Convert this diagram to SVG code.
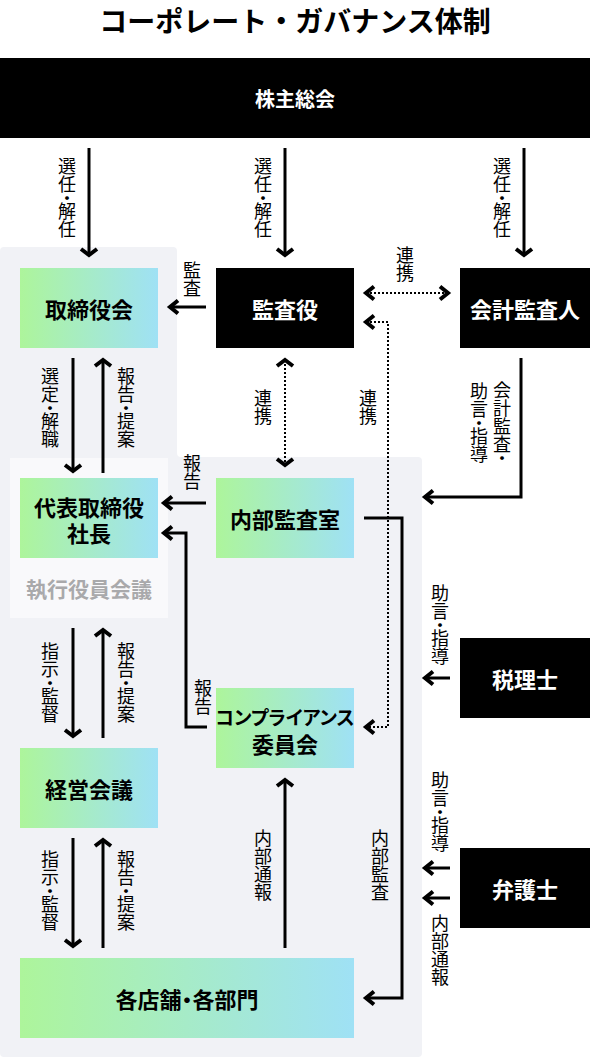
<svg xmlns="http://www.w3.org/2000/svg" width="590" height="1058" viewBox="0 0 590 1058">
<style>
text{font-family:"Noto Sans CJK JP","Noto Sans",sans-serif;dominant-baseline:central}
.title{font-size:28px;font-weight:700;fill:#000;text-anchor:middle}
.nl{font-size:22px;font-weight:700;fill:#000;text-anchor:middle}
.nw{font-size:22px;font-weight:700;fill:#fff;text-anchor:middle}
.vl{font-size:18px;font-weight:400;fill:#000;text-anchor:middle;writing-mode:vertical-rl;font-feature-settings:'vpal'}
.ln{fill:none;stroke:#000;stroke-width:3}
.dt{fill:none;stroke:#000;stroke-width:2;stroke-dasharray:2 2}
.av{marker-end:url(#mv)}
.ah{marker-end:url(#mh)}
.ahh{marker-start:url(#mh);marker-end:url(#mh)}
.avv{marker-start:url(#mv);marker-end:url(#mv)}
</style>
<defs>
<linearGradient id="g" x1="0" y1="0" x2="1" y2="0">
<stop offset="0" stop-color="#adf59b"/>
<stop offset="1" stop-color="#9fe1f5"/>
</linearGradient>
<marker id="mv" markerUnits="userSpaceOnUse" orient="auto-start-reverse" overflow="visible" refX="0" refY="0" markerWidth="1" markerHeight="1">
<path d="M-6,-8 L0,0 L-6,8" fill="none" stroke="#000" stroke-width="4"/>
</marker>
<marker id="mh" markerUnits="userSpaceOnUse" orient="auto-start-reverse" overflow="visible" refX="0" refY="0" markerWidth="1" markerHeight="1">
<path d="M-8,-6.5 L0,0 L-8,6.5" fill="none" stroke="#000" stroke-width="4"/>
</marker>
</defs>

<rect width="590" height="1058" fill="#fff"/>
<text class="title" x="295" y="20">コーポレート・ガバナンス体制</text>

<!-- background panels -->
<path d="M0,251 Q0,247 4,247 L173,247 Q177,247 177,251 L177,453 Q177,457 181,457 L418,457 Q422,457 422,461 L422,1053 Q422,1057 418,1057 L4,1057 Q0,1057 0,1053 Z" fill="#f1f2f6"/>
<rect x="10" y="458" width="158" height="160" fill="#f9f9fb"/>

<g id="shareholders">
<rect x="0" y="58" width="590" height="80" fill="#000"/>
<text class="nw" x="295" y="98" style="font-size:20px">株主総会</text>
</g>
<g id="board">
<rect x="20" y="268" width="138" height="80" fill="url(#g)"/>
<text class="nl" x="89" y="308">取締役会</text>
</g>
<g id="auditor">
<rect x="216" y="268" width="138" height="80" fill="#000"/>
<text class="nw" x="285" y="308">監査役</text>
</g>
<g id="accounting-auditor">
<rect x="460" y="268" width="130" height="80" fill="#000"/>
<text class="nw" x="525" y="308">会計監査人</text>
</g>
<g id="executive-committee">
<text class="nl" x="89" y="588" style="fill:#a9a9ab;font-size:21px">執行役員会議</text>
</g>
<g id="president">
<rect x="20" y="478" width="138" height="80" fill="url(#g)"/>
<text class="nl"><tspan x="89" y="506">代表取締役</tspan><tspan x="89" y="532">社長</tspan></text>
</g>
<g id="internal-audit">
<rect x="216" y="478" width="138" height="80" fill="url(#g)"/>
<text class="nl" x="285" y="518">内部監査室</text>
</g>
<g id="compliance">
<rect x="216" y="688" width="138" height="80" fill="url(#g)"/>
<text class="nl"><tspan x="285" y="716" style="font-size:19px;font-feature-settings:'palt'">コンプライアンス</tspan><tspan x="285" y="743">委員会</tspan></text>
</g>
<g id="management">
<rect x="20" y="748" width="138" height="80" fill="url(#g)"/>
<text class="nl" x="89" y="788">経営会議</text>
</g>
<g id="stores">
<rect x="20" y="958" width="334" height="80" fill="url(#g)"/>
<text class="nl" x="187" y="998" style="font-feature-settings:'palt'">各店舗・各部門</text>
</g>
<g id="tax-accountant">
<rect x="460" y="638" width="130" height="80" fill="#000"/>
<text class="nw" x="525" y="678">税理士</text>
</g>
<g id="lawyer">
<rect x="460" y="848" width="130" height="80" fill="#000"/>
<text class="nw" x="525" y="888">弁護士</text>
</g>

<g id="connectors">
<path class="ln av" d="M89,148 V255"/>
<path class="ln av" d="M285,148 V255"/>
<path class="ln av" d="M524,148 V255"/>
<path class="ln ah" d="M206,307 H170"/>
<path class="dt ahh" d="M366,293 H448"/>
<path class="dt ahh" d="M366,322 H388 V727 H366"/>
<path class="dt avv" d="M285,360 V465"/>
<path class="ln ah" d="M521,358 V497 H425"/>
<path class="ln av" d="M73,358 V471"/>
<path class="ln av" d="M103,473 V360"/>
<path class="ln ah" d="M206,503 H164"/>
<path class="ln ah" d="M207,727 H186 V533 H164"/>
<path class="ln ah" d="M364,518 H402 V998 H366"/>
<path class="ln av" d="M73,628 V736"/>
<path class="ln av" d="M103,738 V630"/>
<path class="ln av" d="M73,838 V946"/>
<path class="ln av" d="M103,948 V840"/>
<path class="ln av" d="M285,948 V780"/>
<path class="ln ah" d="M450,678 H425"/>
<path class="ln ah" d="M450,868 H425"/>
<path class="ln ah" d="M450,898 H425"/>

<!-- labels -->
<text class="vl" x="67" y="198">選任・解任</text>
<text class="vl" x="263" y="198">選任・解任</text>
<text class="vl" x="502" y="198">選任・解任</text>
<text class="vl" x="192" y="279">監査</text>
<text class="vl" x="405" y="264">連携</text>
<text class="vl" x="50" y="408">選定・解職</text>
<text class="vl" x="126" y="408">報告・提案</text>
<text class="vl" x="263" y="407">連携</text>
<text class="vl" x="368" y="407">連携</text>
<text class="vl" x="502" y="422">会計監査・</text>
<text class="vl" x="479" y="423">助言・指導</text>
<text class="vl" x="192" y="472">報告</text>
<text class="vl" x="50" y="683">指示・監督</text>
<text class="vl" x="126" y="683">報告・提案</text>
<text class="vl" x="203" y="697">報告</text>
<text class="vl" x="440" y="625">助言・指導</text>
<text class="vl" x="263" y="865">内部通報</text>
<text class="vl" x="380" y="865">内部監査</text>
<text class="vl" x="50" y="891">指示・監督</text>
<text class="vl" x="126" y="891">報告・提案</text>
<text class="vl" x="440" y="812">助言・指導</text>
<text class="vl" x="440" y="950">内部通報</text>
</g>
</svg>
